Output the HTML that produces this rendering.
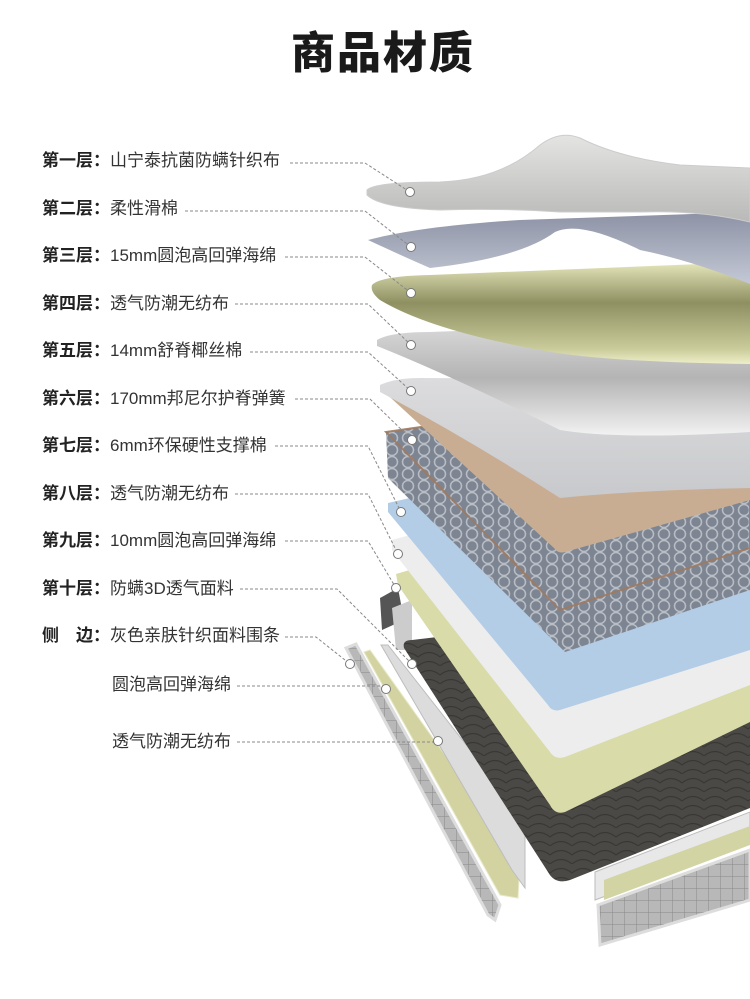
<!DOCTYPE html>
<html><head><meta charset="utf-8"><style>
html,body{margin:0;padding:0;background:#fff;}
body{width:750px;height:999px;position:relative;overflow:hidden;font-family:"Liberation Sans","Noto Sans CJK SC",sans-serif;}
h1{position:absolute;left:0;width:750px;top:26px;margin:0;text-align:center;font-size:44px;font-weight:900;color:#1a1a1a;letter-spacing:2px;line-height:56px;padding-left:16px;box-sizing:border-box;}
.l{position:absolute;left:42px;font-size:17px;color:#333;line-height:20px;white-space:nowrap;}
.l b{color:#222;font-weight:bold;}
svg{position:absolute;left:0;top:0;}
</style></head><body>
<svg width="750" height="999" viewBox="0 0 750 999">
<defs>
<linearGradient id="g1" x1="0" y1="0" x2="0" y2="1"><stop offset="0" stop-color="#e4e4e2"/><stop offset="1" stop-color="#b9b9b7"/></linearGradient>
<linearGradient id="g2" x1="0" y1="0" x2="0" y2="1"><stop offset="0" stop-color="#8c92a4"/><stop offset="1" stop-color="#c4c8d6"/></linearGradient>
<linearGradient id="g3" x1="0" y1="0" x2="0" y2="1"><stop offset="0" stop-color="#e6e8bc"/><stop offset="0.4" stop-color="#8e9062"/><stop offset="0.85" stop-color="#c9cb9a"/><stop offset="1" stop-color="#efefc8"/></linearGradient>
<linearGradient id="g4" x1="0" y1="0" x2="0" y2="1"><stop offset="0" stop-color="#dcdcdc"/><stop offset="0.5" stop-color="#b4b4b4"/><stop offset="1" stop-color="#f2f2f2"/></linearGradient>
<linearGradient id="g5" x1="0" y1="0" x2="0" y2="1"><stop offset="0" stop-color="#dcdcde"/><stop offset="1" stop-color="#c8c9cc"/></linearGradient>
<pattern id="sp" width="16" height="12" patternUnits="userSpaceOnUse"><rect width="16" height="12" fill="#7d8592"/><circle cx="8" cy="6" r="5.5" fill="none" stroke="#b9bec6" stroke-width="1.5"/></pattern>
<pattern id="dk" width="22" height="18" patternUnits="userSpaceOnUse"><rect width="22" height="18" fill="#4b4945"/><path d="M0 9 Q11 0 22 9 M0 18 Q11 9 22 18" fill="none" stroke="#3a3835" stroke-width="1.2"/></pattern>
<pattern id="qt" width="12" height="12" patternUnits="userSpaceOnUse"><rect width="12" height="12" fill="#b8b8b8"/><path d="M0 0V12M0 0H12" stroke="#888" stroke-width="1"/></pattern>
</defs>
<polygon points="595,872 750,812 750,842 595,900" fill="#e8e8e8" stroke="#bbb"/>
<polygon points="604,880 750,826 750,845 604,900" fill="#d3d4a4"/>
<polygon points="598,905 750,850 750,900 600,945" fill="url(#qt)" stroke="#ddd" stroke-width="3"/>
<polygon points="346,648 356,644 500,905 495,920 488,915" fill="url(#qt)" stroke="#ddd" stroke-width="3"/>
<polygon points="364,652 370,650 520,860 518,898 500,895" fill="#d2d3a0" stroke="#e8e8c8"/>
<polygon points="381,645 388,645 525,820 525,888 512,870" fill="#dcdcdc" stroke="#bdbdbd"/>
<polygon points="380,598 398,588 404,620 382,630" fill="#555"/>
<polygon points="392,608 412,600 412,650 396,650" fill="#ccc"/>
<path d="M404,648 Q402,640 412,640 L750,600 L750,808 L570,880 Q555,885 548,872 Z" fill="url(#dk)"/>
<path d="M396,574 L750,470 L750,722 L565,812 Q555,815 550,805 L398,585 Z" fill="#d9dba9"/>
<path d="M392,540 L750,440 L750,685 L565,757 Q555,760 550,752 L392,550 Z" fill="#ededed"/>
<path d="M388,503 L750,420 L750,650 L560,710 Q552,712 548,705 L388,512 Z" fill="#b3cde6"/>
<path d="M386,432 L750,380 L750,590 L565,652 L388,478 Z" fill="url(#sp)"/>
<path d="M386,432 L750,380 L750,548 L560,610 Z" fill="url(#sp)" stroke="#a07a60" stroke-width="2" opacity="0.9"/>
<path d="M380,388 L750,360 L750,500 L565,552 Q558,554 554,548 Z" fill="#c8ad92"/>
<path d="M380,385 Q395,378 420,378 L750,380 L750,488 Q640,490 560,498 Q470,440 380,392 Z" fill="url(#g5)"/>
<path d="M377,340 Q390,332 430,332 L750,320 L750,432 Q620,440 560,430 Q450,375 377,346 Z" fill="url(#g4)"/>
<path d="M372,285 Q380,276 430,275 L750,262 L750,364 Q600,362 540,350 Q430,330 380,300 Q370,292 372,285 Z" fill="url(#g3)"/>
<path d="M368,240 Q420,226 520,220 L750,212 L750,284 Q690,260 640,250 Q580,220 555,232 Q520,258 430,268 Q400,255 368,240 Z" fill="url(#g2)"/>
<path d="M367,190 Q375,182 440,182 Q500,180 540,145 Q560,130 580,138 Q620,158 680,165 L750,168 L750,222 Q700,210 640,212 Q590,212 560,212 Q500,208 440,210 Q380,208 367,195 Z" fill="url(#g1)" stroke="#ccc"/>
<g fill="none" stroke="#888" stroke-width="1" stroke-dasharray="3,2">
<polyline points="290,163 365,163 410,192"/>
<polyline points="185,211 365,211 411,247"/>
<polyline points="285,257 365,257 411,293"/>
<polyline points="235,304 368,304 411,345"/>
<polyline points="250,352 368,352 411,391"/>
<polyline points="295,399 370,399 412,440"/>
<polyline points="275,446 368,446 401,512"/>
<polyline points="235,494 368,494 398,554"/>
<polyline points="285,541 368,541 396,588"/>
<polyline points="240,589 337,589 412,664"/>
<polyline points="285,637 316,637 350,664"/>
<polyline points="237,686 386,686"/>
<polyline points="237,742 438,742"/>
</g>
<g fill="#fff" stroke="#777" stroke-width="1">
<circle cx="410" cy="192" r="4.5"/><circle cx="411" cy="247" r="4.5"/><circle cx="411" cy="293" r="4.5"/>
<circle cx="411" cy="345" r="4.5"/><circle cx="411" cy="391" r="4.5"/><circle cx="412" cy="440" r="4.5"/>
<circle cx="401" cy="512" r="4.5"/><circle cx="398" cy="554" r="4.5"/><circle cx="396" cy="588" r="4.5"/>
<circle cx="412" cy="664" r="4.5"/><circle cx="350" cy="664" r="4.5"/><circle cx="386" cy="689" r="4.5"/>
<circle cx="438" cy="741" r="4.5"/>
</g>
</svg>
<h1>商品材质</h1>
<div class="l" style="top:151px"><b>第一层：</b>山宁泰抗菌防螨针织布</div>
<div class="l" style="top:199px"><b>第二层：</b>柔性滑棉</div>
<div class="l" style="top:246px"><b>第三层：</b>15mm圆泡高回弹海绵</div>
<div class="l" style="top:294px"><b>第四层：</b>透气防潮无纺布</div>
<div class="l" style="top:341px"><b>第五层：</b>14mm舒脊椰丝棉</div>
<div class="l" style="top:389px"><b>第六层：</b>170mm邦尼尔护脊弹簧</div>
<div class="l" style="top:436px"><b>第七层：</b>6mm环保硬性支撑棉</div>
<div class="l" style="top:484px"><b>第八层：</b>透气防潮无纺布</div>
<div class="l" style="top:531px"><b>第九层：</b>10mm圆泡高回弹海绵</div>
<div class="l" style="top:579px"><b>第十层：</b>防螨3D透气面料</div>
<div class="l" style="top:626px"><b>侧　边：</b>灰色亲肤针织面料围条</div>
<div class="l" style="top:675px;left:112px">圆泡高回弹海绵</div>
<div class="l" style="top:732px;left:112px">透气防潮无纺布</div>
</body></html>
